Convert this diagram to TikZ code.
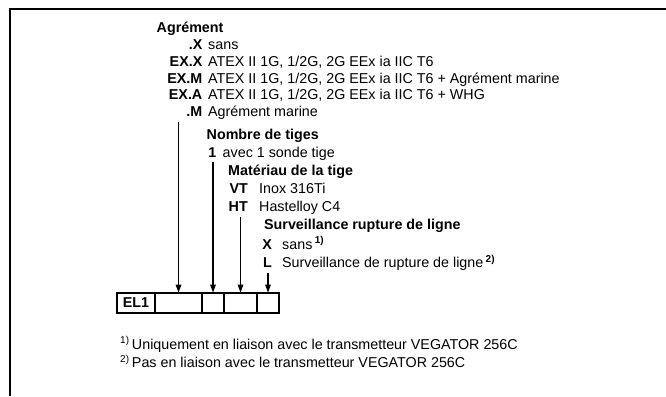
\documentclass[tikz,border=0pt]{standalone}
\usepackage{fontspec}
\setmainfont{Liberation Sans}
\usetikzlibrary{positioning,arrows.meta}
\newcommand{\refmark}[1]{\,\textsuperscript{\bfseries #1)}}
\newcommand{\notemark}[1]{\textsuperscript{#1)}\,}
\newcommand{\bodyfont}{\fontsize{14.3}{16}\selectfont}

\begin{document}
\begin{tikzpicture}[x=1pt,y=-1pt,>={Stealth[length=8pt,width=5.5pt,inset=0pt]},
  every node/.style={inner sep=0pt,font=\bodyfont},
  head/.style={anchor=base west,font=\bodyfont\bfseries},
  code/.style={anchor=base east,font=\bodyfont\bfseries},
  txt/.style={anchor=base west},
  cell/.style={draw,line width=2pt,outer sep=0pt,inner sep=0pt,minimum height=20.5pt},
  feed/.style={->,line width=1.3pt}]
\useasboundingbox (0,0) rectangle (666,396);
% frame
\draw[line width=2.5pt] (10,396) -- (10,9) -- (666,9);

% Agrement
\node[head] (hAgr) at (156.5,32.5) {Agrément};
\node[code] (kX) at (202.5,50) {.X};
\node[txt] (dX) at (208,50) {sans};
\node[code] (kEXX) at (202.5,66.5) {EX.X};
\node[txt] (dEXX) at (208,66.5) {ATEX II 1G, 1/2G, 2G EEx ia IIC T6};
\node[code] (kEXM) at (202.5,83) {EX.M};
\node[txt] (dEXM) at (208,83) {ATEX II 1G, 1/2G, 2G EEx ia IIC T6 + Agrément marine};
\node[code] (kEXA) at (202.5,99.5) {EX.A};
\node[txt] (dEXA) at (208,99.5) {ATEX II 1G, 1/2G, 2G EEx ia IIC T6 + WHG};
\node[code] (kM) at (202.5,116.3) {.M};
\node[txt] (dM) at (208,116.3) {Agrément marine};

% Nombre de tiges
\node[head] (hNb) at (206.5,139.5) {Nombre de tiges};
\node[code] (k1) at (216.5,157) {1};
\node[txt] (d1) at (222.5,157) {avec 1 sonde tige};

% Materiau
\node[head] (hMat) at (228,175) {Matériau de la tige};
\node[code] (kVT) at (248,193) {VT};
\node[txt] (dVT) at (259,193) {Inox 316Ti};
\node[code] (kHT) at (248,211) {HT};
\node[txt] (dHT) at (259,211) {Hastelloy C4};

% Surveillance
\node[head] (hSur) at (264,229.5) {Surveillance rupture de ligne};
\node[code] (kSX) at (272,249) {X};
\node[txt] (dSX) at (282,249) {sans\refmark{1}};
\node[code] (kSL) at (272,267.5) {L};
\node[txt] (dSL) at (282,267.5) {Surveillance de rupture de ligne\refmark{2}};

% type code
\node[cell,minimum width=38pt,anchor=west,font=\bodyfont\bfseries] (el) at (117,302.9) {EL1};
\node[cell,minimum width=47pt,right=0pt of el] (c1) {};
\node[cell,minimum width=22pt,right=0pt of c1] (c2) {};
\node[cell,minimum width=33pt,right=0pt of c2] (c3) {};
\node[cell,minimum width=22pt,right=0pt of c3] (c4) {};

\coordinate (a1) at (0,121.5);
\coordinate (a2) at (0,161.5);
\coordinate (a3) at (0,216.5);
\coordinate (a4) at (0,272.5);
\draw[feed] (c1.north |- a1) -- (c1.north);
\draw[feed] (c2.north |- a2) -- (c2.north);
\draw[feed] (c3.north |- a3) -- (c3.north);
\draw[feed] (c4.north |- a4) -- (c4.north);

% notes
\node[txt] (n1) at (120,349) {\notemark{1}Uniquement en liaison avec le transmetteur VEGATOR 256C};
\node[txt] (n2) at (120,367.5) {\notemark{2}Pas en liaison avec le transmetteur VEGATOR 256C};
\end{tikzpicture}
\end{document}
